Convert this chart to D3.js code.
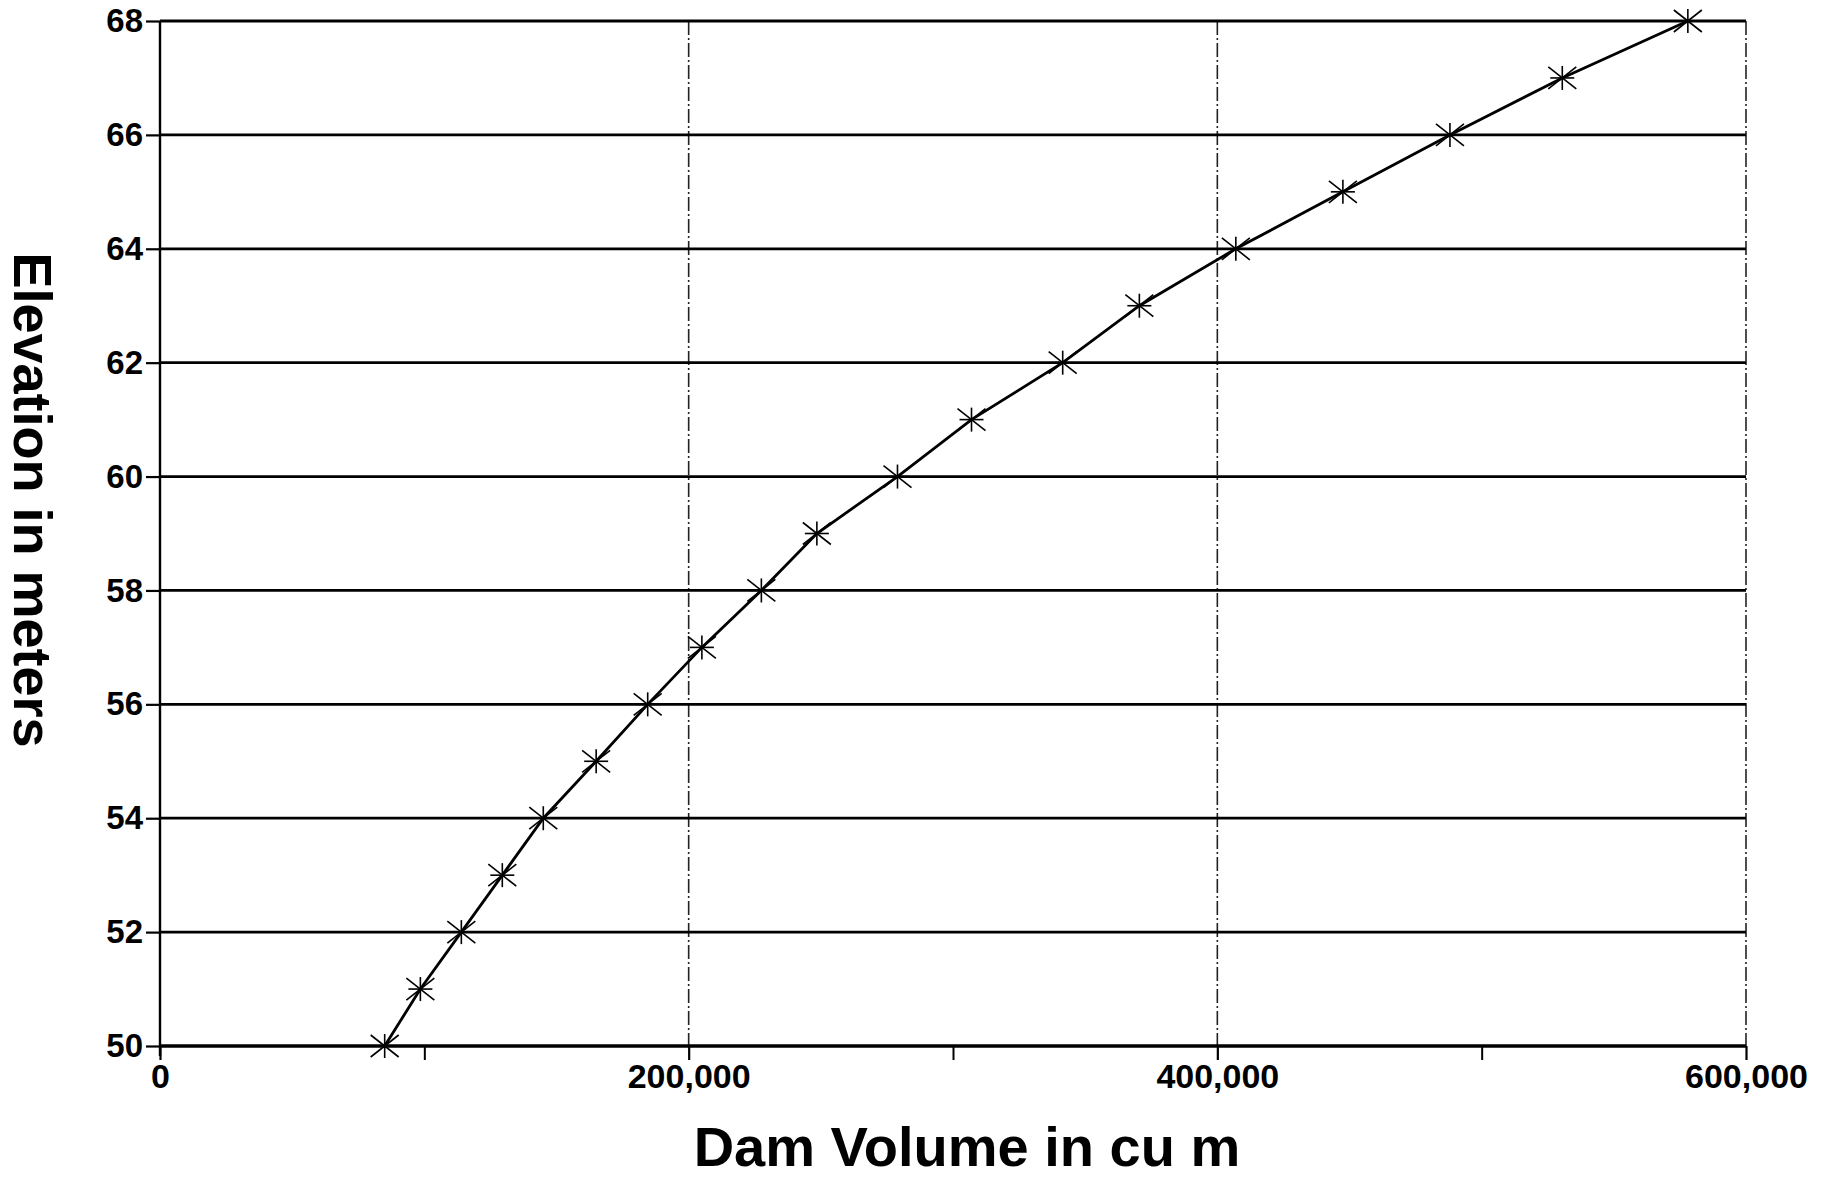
<!DOCTYPE html>
<html>
<head>
<meta charset="utf-8">
<script src="https://cdn.jsdelivr.net/npm/d3@7/dist/d3.min.js"></script>
<style>
  html, body { margin: 0; padding: 0; background: #fff; }
  svg { display: block; }
  text { font-family: "Liberation Sans", Arial, sans-serif; font-weight: bold; fill: #000; }
</style>
</head>
<body>
<div id="chart"></div>
<script>
// Elevation (m) against cumulative dam volume (cu m)
const elevations = [50, 51, 52, 53, 54, 55, 56, 57, 58, 59, 60, 61, 62, 63, 64, 65, 66, 67, 68];
const volumes = [85000, 98500, 114000, 129500, 145000, 165000, 184500, 205000, 227500, 248500,
                 279000, 307000, 341500, 370500, 407000, 447500, 488000, 530500, 578000];

const xMajorTicks = [0, 200000, 400000, 600000];
const xMinorTicks = [100000, 300000, 500000];
const yTicks = [50, 52, 54, 56, 58, 60, 62, 64, 66, 68];

const W = 1826, H = 1178;
const m = { l: 160, r: 80, t: 21, b: 132 }; // margins

const svg = d3.select("#chart").append("svg")
  .attr("width", W)
  .attr("height", H);

const x = d3.scaleLinear().domain([0, 600000]).range([m.l, W - m.r]);
const y = d3.scaleLinear().domain([50, 68]).range([H - m.b, m.t]);

// Vertical grid (dash-dot)
svg.append("g")
  .selectAll("line")
  .data(xMajorTicks.slice(1))
  .enter().append("line")
  .attr("x1", d => x(d)).attr("x2", d => x(d))
  .attr("y1", y(68)).attr("y2", y(50))
  .attr("stroke", "#222")
  .attr("stroke-width", 1.6)
  .attr("stroke-dasharray", "14,3,2,3");

// Horizontal grid
svg.append("g")
  .selectAll("line")
  .data(yTicks)
  .enter().append("line")
  .attr("x1", x(0)).attr("x2", x(600000))
  .attr("y1", d => y(d)).attr("y2", d => y(d))
  .attr("stroke", "#000")
  .attr("stroke-width", d => d === 50 ? 3.4 : 2.8);

// Y axis
const yAxis = svg.append("g")
  .attr("transform", "translate(" + x(0) + ",0)")
  .call(d3.axisLeft(y).tickValues(yTicks).tickSize(14).tickPadding(3).tickFormat(d3.format("d")));
yAxis.select(".domain").attr("stroke-width", 2.4).attr("d", "M0," + y(68) + "V" + (y(50) + 10));
yAxis.selectAll(".tick line").attr("stroke-width", 2.2);
yAxis.selectAll(".tick text").style("font-size", "33px");

// X axis, major ticks with labels
const xAxis = svg.append("g")
  .attr("transform", "translate(0," + y(50) + ")")
  .call(d3.axisBottom(x).tickValues(xMajorTicks).tickSize(14).tickPadding(4).tickFormat(d3.format(",")));
xAxis.select(".domain").remove();
xAxis.selectAll(".tick line").attr("stroke-width", 2.2);
xAxis.selectAll(".tick text").style("font-size", "34px");

// X axis minor ticks
svg.append("g")
  .attr("transform", "translate(0," + y(50) + ")")
  .call(d3.axisBottom(x).tickValues(xMinorTicks).tickSize(14).tickFormat(""))
  .call(g => g.select(".domain").remove())
  .selectAll(".tick line").attr("stroke-width", 2);

// Data line
const line = d3.line()
  .x((d, i) => x(volumes[i]))
  .y(d => y(d));

svg.append("path")
  .datum(elevations)
  .attr("fill", "none")
  .attr("stroke", "#000")
  .attr("stroke-width", 2.8)
  .attr("d", line);

// Asterisk markers
svg.append("g")
  .selectAll("g")
  .data(elevations)
  .enter().append("g")
  .attr("transform", (d, i) => "translate(" + x(volumes[i]) + "," + y(d) + ")")
  .each(function() {
    const g = d3.select(this);
    g.append("line").attr("x1", -14).attr("y1", -11).attr("x2", 14).attr("y2", 11);
    g.append("line").attr("x1", -14).attr("y1", 11).attr("x2", 14).attr("y2", -11);
    g.append("line").attr("x1", 0).attr("y1", -12).attr("x2", 0).attr("y2", 12);
    g.append("line").attr("x1", -12).attr("y1", 0).attr("x2", 12).attr("y2", 0);
  })
  .selectAll("line")
  .attr("stroke", "#000")
  .attr("stroke-width", 1.6);

// Axis titles
svg.append("text")
  .attr("x", 967)
  .attr("y", 1166)
  .attr("text-anchor", "middle")
  .style("font-size", "56px")
  .text("Dam Volume in cu m");

svg.append("text")
  .attr("transform", "translate(14,500) rotate(90)")
  .attr("text-anchor", "middle")
  .style("font-size", "54px")
  .text("Elevation in meters");
</script>
</body>
</html>
